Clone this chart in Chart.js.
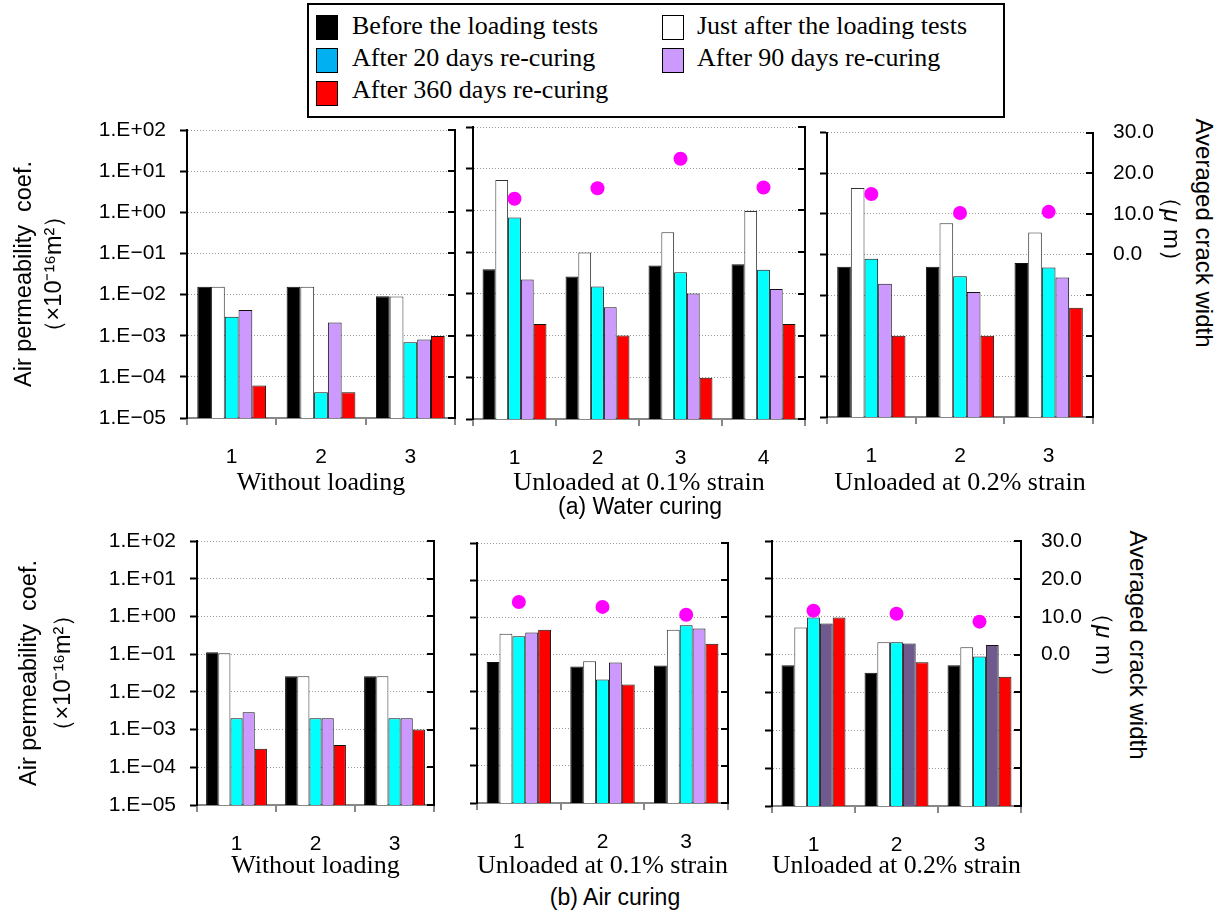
<!DOCTYPE html>
<html>
<head>
<meta charset="utf-8">
<script src="https://cdn.jsdelivr.net/npm/chart.js@4.4.1/dist/chart.umd.min.js"></script>
<style>
body { margin:0; background:#fff; width:1224px; height:911px; position:relative; overflow:hidden; font-family:"Liberation Sans", Arial, sans-serif; }
canvas { position:absolute; }
#legend { position:absolute; left:307px; top:3px; width:694px; height:111px; border:2px solid #000; font-family:"Liberation Serif","Times New Roman",serif; font-size:26px; }
.sw { position:absolute; width:22px; height:25px; border:1px solid #000; box-sizing:border-box; }
.lt { position:absolute; line-height:32px; white-space:nowrap; }
.cap { position:absolute; font-size:23px; white-space:nowrap; transform:translate(-50%,-50%); }
.vt { position:absolute; font-size:24px; white-space:nowrap; writing-mode:vertical-rl; text-orientation:sideways; transform:translate(-50%,-50%); }
</style>
</head>
<body>
<div id="legend"></div>

<canvas id="a1" width="457" height="399" style="left:0px;top:100px"></canvas>
<canvas id="a2" width="350" height="399" style="left:462px;top:100px"></canvas>
<canvas id="a3" width="347" height="399" style="left:816px;top:100px"></canvas>
<canvas id="b1" width="436" height="377" style="left:0px;top:505px"></canvas>
<canvas id="b2" width="269" height="377" style="left:466px;top:505px"></canvas>
<canvas id="b3" width="330" height="377" style="left:761px;top:505px"></canvas>

<div class="cap" style="left:640px;top:506px">(a) Water curing</div>
<div class="cap" style="left:615px;top:897px">(b) Air curing</div>
<div class="vt" style="left:1204px;top:233px">Averaged crack width</div>
<div class="vt" style="left:1172px;top:229px">（<i>μ</i> m）</div>
<div class="vt" style="left:1138px;top:645px">Averaged crack width</div>
<div class="vt" style="left:1104px;top:645px">（<i>μ</i> m）</div>

<script>
// series / legend
const seriesLabels = ['Before the loading tests', 'Just after the loading tests', 'After 20 days re-curing', 'After 90 days re-curing', 'After 360 days re-curing'];
const barColors = ['#000000', '#ffffff', '#00ffff', '#cc99ff', '#ff0000'];
const legendColors = ['#000000', '#ffffff', '#00b0f0', '#cc99ff', '#ff0000'];

const cats3 = ['1', '2', '3'];
const cats4 = ['1', '2', '3', '4'];

// log axis ticks (exponents) and crack width ticks
const decades = [-5, -4, -3, -2, -1, 0, 1, 2];
const crackTicks = [0, 10, 20, 30];

// (a) Water curing  -- rows: before, just after, 20d, 90d, 360d
const waterNoLoad = [
  [0.0155, 0.0155, 0.0091],
  [0.0155, 0.0155, 0.0090],
  [0.0029, 0.000042, 0.00069],
  [0.0042, 0.0021, 0.00081],
  [0.000062, 0.000042, 0.00098]
];
const water01 = [
  [0.039, 0.026, 0.048, 0.051],
  [5.4, 0.098, 0.30, 0.97],
  [0.68, 0.015, 0.033, 0.038],
  [0.022, 0.0048, 0.0102, 0.013],
  [0.0019, 0.0010, 0.000098, 0.0019]
];
const water01Crack = [12.8, 15.3, 22.4, 15.5];
const water02 = [
  [0.050, 0.050, 0.062],
  [4.3, 0.59, 0.35],
  [0.079, 0.029, 0.048],
  [0.019, 0.012, 0.027],
  [0.0010, 0.0010, 0.0049]
];
const water02Crack = [14.9, 10.2, 10.5];

// (b) Air curing
const airNoLoad = [
  [0.112, 0.026, 0.026],
  [0.105, 0.026, 0.026],
  [0.0020, 0.0020, 0.0020],
  [0.0029, 0.0020, 0.0020],
  [0.00031, 0.00039, 0.0010]
];
const air01 = [
  [0.063, 0.047, 0.050],
  [0.36, 0.066, 0.46],
  [0.31, 0.021, 0.61],
  [0.39, 0.061, 0.50],
  [0.46, 0.0155, 0.195]
];
const air01Crack = [14.1, 12.8, 10.7];
const air02 = [
  [0.052, 0.033, 0.052],
  [0.52, 0.21, 0.155],
  [0.96, 0.21, 0.089],
  [0.66, 0.195, 0.18],
  [0.96, 0.063, 0.026]
];
const air02Crack = [11.6, 10.8, 8.7];

const SANS = '"Liberation Sans", Arial, sans-serif';
const SERIF = '"Liberation Serif", "Times New Roman", serif';

// legend box (html)
const legend = document.getElementById('legend');
const slots = [[0, 0], [1, 0], [0, 1], [1, 1], [0, 2]];
seriesLabels.forEach((lab, i) => {
  const [c, r] = slots[i];
  const sw = document.createElement('div');
  sw.className = 'sw';
  sw.style.left = (c ? 353 : 7) + 'px';
  sw.style.top = (10 + r * 33) + 'px';
  sw.style.background = legendColors[i];
  legend.appendChild(sw);
  const t = document.createElement('div');
  t.className = 'lt';
  t.style.left = (c ? 388 : 43) + 'px';
  t.style.top = (5 + r * 32) + 'px';
  t.textContent = lab;
  legend.appendChild(t);
});

function expLabel(v) {
  const e = Math.round(Math.log10(v));
  return '1.E' + (e < 0 ? '\u2212' : '+') + String(Math.abs(e)).padStart(2, '0');
}

// small inward ticks on the right frame line
const innerTicks = {
  id: 'innerTicks',
  afterDraw(chart) {
    const {ctx, chartArea: a, scales: {y}} = chart;
    ctx.save();
    ctx.strokeStyle = '#000';
    ctx.lineWidth = 2;
    y.ticks.forEach(t => {
      const py = Math.round(y.getPixelForValue(t.value));
      ctx.beginPath();
      ctx.moveTo(a.right - 7, py);
      ctx.lineTo(a.right, py);
      ctx.stroke();
    });
    ctx.restore();
  }
};

function makePanel(id, o) {
  const datasets = o.rows.map((vals, i) => ({
    type: 'bar',
    label: seriesLabels[i],
    data: vals,
    backgroundColor: (i === 3 && o.purple) ? o.purple : barColors[i],
    borderColor: i === 1 ? '#333' : '#111',
    borderWidth: 1,
    categoryPercentage: 0.77,
    barPercentage: 1.0,
    yAxisID: 'y',
    order: 1
  }));
  if (o.crack) {
    datasets.push({
      type: 'line',
      label: 'Averaged crack width',
      data: o.crack,
      yAxisID: 'y2',
      showLine: false,
      pointRadius: 7,
      pointBackgroundColor: '#ff00ff',
      pointBorderWidth: 0,
      order: 0
    });
  }
  new Chart(document.getElementById(id), {
    type: 'bar',
    data: { labels: o.cats, datasets: datasets },
    plugins: [innerTicks],
    options: {
      responsive: false,
      animation: false,
      events: [],
      layout: { padding: { top: o.padTop, left: 0, right: 0, bottom: 0 } },
      plugins: { legend: { display: false }, tooltip: { enabled: false } },
      scales: {
        x: {
          offset: true,
          grid: { display: true, drawOnChartArea: false, offset: true, tickLength: 7, color: '#888', lineWidth: 2 },
          border: { display: true, color: '#888', width: 2 },
          ticks: { color: '#000', font: { family: SANS, size: 21 }, padding: 20, maxRotation: 0 },
          title: { display: true, text: o.xTitle, color: '#000', font: { family: SERIF, size: 26, lineHeight: 1.2 }, padding: 0 },
          afterFit: s => { s.height = o.xH; }
        },
        y: {
          type: 'logarithmic',
          position: 'left',
          min: 1e-5,
          max: 1e2,
          afterBuildTicks: s => { s.ticks = decades.map(e => ({ value: Math.pow(10, e) })); },
          ticks: { display: !!o.yTitle, color: '#000', font: { family: SANS, size: 21 }, padding: 14, callback: v => expLabel(v) },
          grid: { color: '#999', lineWidth: 1, tickLength: 7, tickColor: '#000', tickWidth: 2 },
          border: { color: '#000', width: 2, dash: [1, 2] },
          title: o.yTitle ? { display: true, text: o.yTitle, color: '#000', font: { family: SANS, size: 23.5, lineHeight: o.yLH }, padding: { top: o.yPad, bottom: 0 } } : { display: false },
          afterFit: s => { s.width = o.leftW; }
        },
        y2: {
          type: 'linear',
          position: 'right',
          min: -40,
          max: 30,
          afterBuildTicks: s => { s.ticks = crackTicks.map(v => ({ value: v })); },
          ticks: { display: !!o.rightLabels, color: '#000', font: { family: SANS, size: 21 }, padding: 20, callback: v => v.toFixed(1) },
          grid: { display: false, drawTicks: false },
          border: { display: true, color: '#000', width: 2 },
          afterFit: s => { s.width = o.rightW; }
        }
      }
    }
  });
}

const yTitleLines = ['Air permeability  coef.', '（×10\u207B\u00B9\u2076m\u00B2）'];

makePanel('a1', { cats: cats3, rows: waterNoLoad, xTitle: 'Without loading', yTitle: yTitleLines, yLH: 1.3, yPad: 9,
  padTop: 30, xH: 81, leftW: 187, rightW: 2 });
makePanel('a2', { cats: cats4, rows: water01, crack: water01Crack, xTitle: 'Unloaded at 0.1% strain',
  padTop: 27, xH: 80, leftW: 11, rightW: 2 });
makePanel('a3', { cats: cats3, rows: water02, crack: water02Crack, xTitle: 'Unloaded at 0.2% strain', rightLabels: true,
  padTop: 27, xH: 82, leftW: 11, rightW: 70 });
makePanel('b1', { cats: cats3, rows: airNoLoad, xTitle: 'Without loading', yTitle: yTitleLines, yLH: 1.45, yPad: 12,
  padTop: 36, xH: 77, leftW: 197, rightW: 2 });
makePanel('b2', { cats: cats3, rows: air01, crack: air01Crack, xTitle: 'Unloaded at 0.1% strain',
  padTop: 38, xH: 79, leftW: 11, rightW: 2 });
makePanel('b3', { cats: cats3, rows: air02, crack: air02Crack, xTitle: 'Unloaded at 0.2% strain', rightLabels: true, purple: '#6f5a8e',
  padTop: 36, xH: 76, leftW: 11, rightW: 70 });
</script>
</body>
</html>
